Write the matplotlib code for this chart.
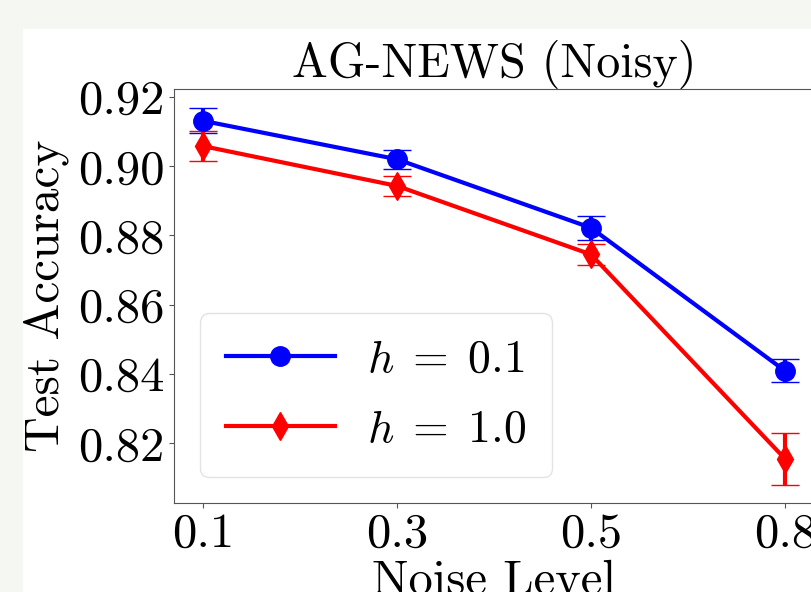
import matplotlib
matplotlib.use('Agg')
import matplotlib.pyplot as plt
from matplotlib.patches import Rectangle

plt.rcParams['font.family'] = 'cmr10'
plt.rcParams['mathtext.fontset'] = 'cm'
plt.rcParams['axes.formatter.use_mathtext'] = True

noise = ['0.1', '0.3', '0.5', '0.8']
acc_h01 = [0.9131, 0.9020, 0.8822, 0.8409]
err_h01 = [0.0036, 0.0028, 0.0034, 0.0033]
acc_h10 = [0.9058, 0.8943, 0.8745, 0.8155]
err_h10 = [0.0044, 0.0028, 0.0030, 0.0075]

fig = plt.figure(figsize=(8.12, 5.92), dpi=100)
fig.patch.set_facecolor('#f5f7f2')
# white page area (screenshot offset)
fig.add_artist(Rectangle((23 / 812, 0), 1, 1 - 29 / 592, transform=fig.transFigure,
                         facecolor='white', edgecolor='none', zorder=-10))

ax = fig.add_axes([174 / 812, 89 / 592, 640 / 812, 414 / 592])
ax.set_facecolor('white')
x = list(range(len(noise)))

# error bars first, then lines with markers (legend shows only line+marker)
ax.errorbar(x, acc_h01, yerr=err_h01, fmt='none', ecolor='blue',
            elinewidth=3, capsize=10, capthick=1)
ax.errorbar(x, acc_h10, yerr=err_h10, fmt='none', ecolor='red',
            elinewidth=3, capsize=10, capthick=1)
ax.plot(x, acc_h01, color='blue', marker='o', markersize=14, linewidth=3,
        label=r'$h\;=\;0.1$')
ax.plot(x, acc_h10, color='red', marker='d', markersize=14, linewidth=3,
        label=r'$h\;=\;1.0$')

ax.set_xticks(x)
ax.set_xticklabels(noise)
ax.set_xlim(-0.15, 3.15)
ax.set_ylim(0.8027, 0.9223)
ax.set_yticks([0.82, 0.84, 0.86, 0.88, 0.90, 0.92])
ax.set_yticklabels(['0.82', '0.84', '0.86', '0.88', '0.90', '0.92'])
ax.tick_params(labelsize=35, color='#555555')
for s in ax.spines.values():
    s.set_color('#555555')

ax.set_title('AG-NEWS (Noisy)', fontsize=34.5, pad=7)
ax.set_xlabel('Noise Level', fontsize=35, labelpad=2)
ax.set_ylabel('Test Accuracy', fontsize=35.5, labelpad=6)

leg = ax.legend(loc='lower left', fontsize=33, handlelength=2.38, handletextpad=0.7,
                labelspacing=0.63, borderpad=0.56, borderaxespad=0.57, fancybox=True)
leg.get_frame().set_edgecolor('#dddddd')

fig.savefig('out.png', dpi=100, facecolor=fig.get_facecolor())
